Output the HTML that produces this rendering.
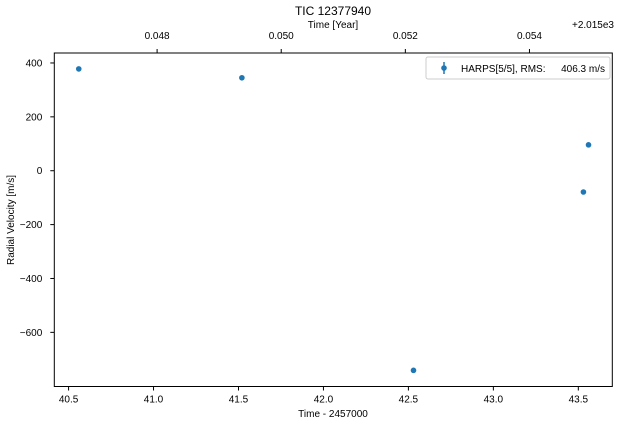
<!DOCTYPE html>
<html><head><meta charset="utf-8"><style>
body{margin:0;background:#fff;font-family:"Liberation Sans",Arial,sans-serif;}
svg text{font-family:"Liberation Sans",Arial,sans-serif;}
</style></head><body>
<svg id="c" width="619" height="426"></svg>
<script>
const times=[40.56,41.52,42.53,43.53,43.56];
const rvs=[378,345,-741,-79,96];
const xTicks=[40.5,41.0,41.5,42.0,42.5,43.0,43.5];
const yTicks=[400,200,0,-200,-400,-600];
const yearTicks=[0.048,0.050,0.052,0.054];
const L=54.3,R=612.3,T=53,B=386.5,x0=40.416,x1=43.70,y0=-801,y1=437;
const X=v=>L+(v-x0)/(x1-x0)*(R-L);
const Y=v=>B-(v-y0)/(y1-y0)*(B-T);
const yearToJd=yr=>yr*365.25+23.489;
const s=document.getElementById('c');const NS='http://www.w3.org/2000/svg';
function mk(t,a,txt){const e=document.createElementNS(NS,t);for(const k in a)e.setAttribute(k,a[k]);if(txt!==undefined)e.textContent=txt;s.appendChild(e);return e;}
let e;
e=mk('rect',{x:L,y:T,width:R-L,height:B-T,fill:'none',stroke:'#000','stroke-width':1});


xTicks.forEach(v=>{const x=X(v);
e=mk('line',{x1:x,x2:x,y1:B,y2:B+4,stroke:'#000'});


e=mk('text',{x:x,y:B+16,'font-size':10,'text-anchor':'middle'},v.toFixed(1));

});
yTicks.forEach(v=>{const y=Y(v);
e=mk('line',{x1:L-4,x2:L,y1:y,y2:y,stroke:'#000'});


e=mk('text',{x:L-12,y:y+3.5,'font-size':10,'text-anchor':'end'},v<0?'\u2212'+(-v):String(v));

});
yearTicks.forEach(v=>{const x=X(yearToJd(v));
e=mk('line',{x1:x,x2:x,y1:T-4,y2:T,stroke:'#000'});


e=mk('text',{x:x,y:T-14,'font-size':10,'text-anchor':'middle'},v.toFixed(3));

});
e=mk('text',{x:614,y:28,'font-size':10,'text-anchor':'end'},'+2.015e3');


e=mk('text',{x:333,y:15,'font-size':12,'text-anchor':'middle'},'TIC 12377940');


e=mk('text',{x:333,y:28,'font-size':10,'text-anchor':'middle'},'Time [Year]');


e=mk('text',{x:333,y:417,'font-size':10,'text-anchor':'middle'},'Time - 2457000');


e=mk('text',{x:14,y:220,'font-size':10,'text-anchor':'middle',transform:'rotate(-90 14 220)'},'Radial Velocity [m/s]');


times.forEach((t,i)=>{e=mk('circle',{cx:X(t),cy:Y(rvs[i]),r:2.8,fill:'#1f77b4'});

});
e=mk('rect',{x:426,y:57,width:184,height:22,rx:2,fill:'#fff',stroke:'#ccc'});


mk('line',{x1:444,x2:444,y1:62,y2:74,stroke:'#1f77b4','stroke-width':1.5});
e=mk('circle',{cx:444,cy:68,r:2.8,fill:'#1f77b4'});


e=mk('text',{x:461,y:72,'font-size':10},'HARPS[5/5], RMS:');


e=mk('text',{x:605,y:72,'font-size':10,'text-anchor':'end'},'406.3 m/s');


</script>
</body></html>
